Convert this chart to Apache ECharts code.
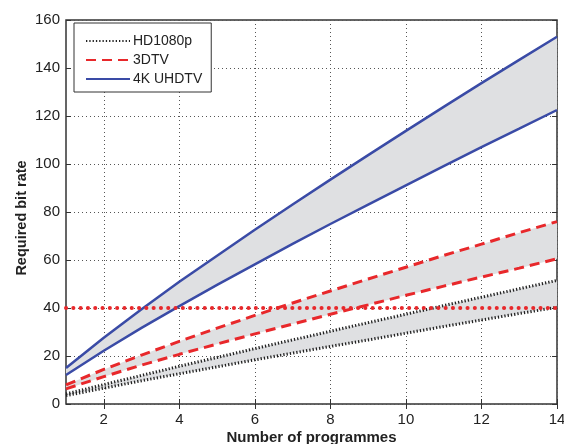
<!DOCTYPE html>
<html>
<head>
<meta charset="utf-8">
<script src="https://cdn.jsdelivr.net/npm/echarts@6/dist/echarts.min.js"></script>
<style>
  html, body { margin: 0; padding: 0; background: #fff; }
  #chart { width: 564px; height: 444px; }
</style>
</head>
<body>
<div id="chart"></div>
<script>
// number of programmes
const programmes = [1, 2, 3, 4, 5, 6, 7, 8, 9, 10, 11, 12, 13, 14]

// required bit rate, upper / lower bound of each format
const hdUpper  = [4.2, 8.1, 11.9, 15.7, 19.4, 23.1, 26.7, 30.3, 33.9, 37.4, 41.0, 44.5, 48.0, 51.5]
const hdLower  = [3.5, 6.6, 9.7, 12.6, 15.5, 18.4, 21.2, 24.0, 26.7, 29.5, 32.3, 35.0, 37.7, 40.3]
const tdUpper  = [8.0, 14.4, 20.4, 26.1, 31.6, 36.9, 42.1, 47.1, 52.1, 57.0, 61.9, 66.6, 71.4, 76.0]
const tdLower  = [6.3, 11.4, 16.2, 20.7, 25.0, 29.2, 33.3, 37.4, 41.3, 45.3, 49.1, 52.9, 56.6, 60.5]
const uhdUpper = [15.0, 27.6, 39.5, 50.9, 61.8, 72.6, 83.1, 93.5, 103.7, 113.8, 123.8, 133.7, 143.4, 153.0]
const uhdLower = [12.1, 22.2, 31.7, 40.8, 49.6, 58.2, 66.7, 75.0, 83.1, 91.1, 99.1, 107.0, 114.7, 122.5]

// horizontal limit line
const limitX = [1, 14]
const limitY = [40, 40]

const xTicks = [2, 4, 6, 8, 10, 12, 14]

const chart = echarts.init(document.getElementById('chart'))

const pairs = (ys) => programmes.map((x, i) => [x, ys[i]])
const diff = (up, lo) => up.map((v, i) => +(v - lo[i]).toFixed(2))

const FONT = 'Liberation Sans'
const BAND = '#dfe0e2'
const RED = '#e8282b'
const BLUE = '#3a4ba6'
const BLACK = '#222'

// gray band between two curves, stacked on a hidden category axis
// (category axis with boundaryGap false lines up with the value axis 1..14)
function band(key, lo, up) {
  return [
    {
      name: key + '-base',
      type: 'line',
      xAxisIndex: 2,
      stack: key,
      data: lo,
      symbol: 'none',
      lineStyle: { opacity: 0 },
      silent: true,
      z: 1
    },
    {
      name: key + '-fill',
      type: 'line',
      xAxisIndex: 2,
      stack: key,
      data: diff(up, lo),
      symbol: 'none',
      lineStyle: { opacity: 0 },
      areaStyle: { color: BAND, opacity: 1 },
      silent: true,
      z: 1
    }
  ]
}

function curve(name, ys, color, type, width) {
  return {
    name,
    type: 'line',
    data: pairs(ys),
    symbol: 'none',
    lineStyle: { color, type, width },
    itemStyle: { color },
    z: 3
  }
}

const gridLine = { show: true, lineStyle: { color: '#555', type: [1, 3], width: 1 } }

const option = {
  animation: false,
  textStyle: { fontFamily: FONT },
  grid: {
    left: 66, right: 7, top: 20, bottom: 40,
    show: true, borderColor: '#333', borderWidth: 1.5,
    containLabel: false,
    outerBoundsMode: 'none'
  },
  legend: {
    data: ['HD1080p', '3DTV', '4K UHDTV'],
    orient: 'vertical',
    left: 74,
    top: 23,
    padding: [11, 9, 6, 11],
    itemWidth: 44,
    itemHeight: 14,
    itemGap: 5,
    backgroundColor: '#fff',
    borderColor: '#333',
    borderWidth: 1,
    borderRadius: 0,
    itemStyle: { opacity: 0 },
    textStyle: { fontSize: 14, color: '#222', fontFamily: FONT, padding: [0, 0, 0, -2] }
  },
  xAxis: [
    {
      type: 'value',
      min: 1,
      max: 14,
      name: 'Number of programmes',
      nameLocation: 'middle',
      nameGap: 26,
      nameMoveOverlap: false,
      nameTextStyle: { fontSize: 15, fontWeight: 'bold', color: '#222' },
      axisLine: { show: false },
      axisTick: { show: true, inside: true, length: 5, customValues: xTicks, lineStyle: { color: '#333' } },
      axisLabel: { fontSize: 15, color: '#222', margin: 8, customValues: xTicks },
      splitLine: gridLine
    },
    {
      type: 'value',
      min: 1,
      max: 14,
      position: 'top',
      axisLine: { show: false },
      axisTick: { show: true, inside: true, length: 5, customValues: xTicks, lineStyle: { color: '#333' } },
      axisLabel: { show: false },
      splitLine: { show: false }
    },
    {
      type: 'category',
      data: programmes,
      boundaryGap: false,
      show: false
    }
  ],
  yAxis: [
    {
      type: 'value',
      min: 0,
      max: 160,
      interval: 20,
      name: 'Required bit rate',
      nameLocation: 'middle',
      nameGap: 37,
      nameMoveOverlap: false,
      nameTextStyle: { fontSize: 14.5, fontWeight: 'bold', color: '#222', padding: [0, 12, 0, 0] },
      axisLine: { show: false },
      axisTick: { show: true, inside: true, length: 5, lineStyle: { color: '#333' } },
      axisLabel: { fontSize: 15, color: '#222', margin: 6 },
      splitLine: gridLine
    },
    {
      type: 'value',
      min: 0,
      max: 160,
      interval: 20,
      position: 'right',
      axisLine: { show: false },
      axisTick: { show: true, inside: true, length: 5, lineStyle: { color: '#333' } },
      axisLabel: { show: false },
      splitLine: { show: false }
    }
  ],
  series: [
    ...band('hd', hdLower, hdUpper),
    ...band('td', tdLower, tdUpper),
    ...band('uhd', uhdLower, uhdUpper),
    curve('HD1080p', hdUpper, BLACK, [1.3, 2], 3),
    curve('HD1080p', hdLower, BLACK, [1.3, 2], 3),
    curve('3DTV', tdUpper, RED, [10, 6], 3),
    curve('3DTV', tdLower, RED, [10, 6], 3),
    curve('4K UHDTV', uhdUpper, BLUE, 'solid', 2.5),
    curve('4K UHDTV', uhdLower, BLUE, 'solid', 2.5),
    {
      name: 'limit',
      type: 'line',
      data: limitX.map((x, i) => [x, limitY[i]]),
      symbol: 'none',
      lineStyle: { color: RED, type: [0.1, 7.2], width: 4, cap: 'round' },
      silent: true,
      z: 4
    }
  ]
}

chart.setOption(option)
</script>
</body>
</html>
